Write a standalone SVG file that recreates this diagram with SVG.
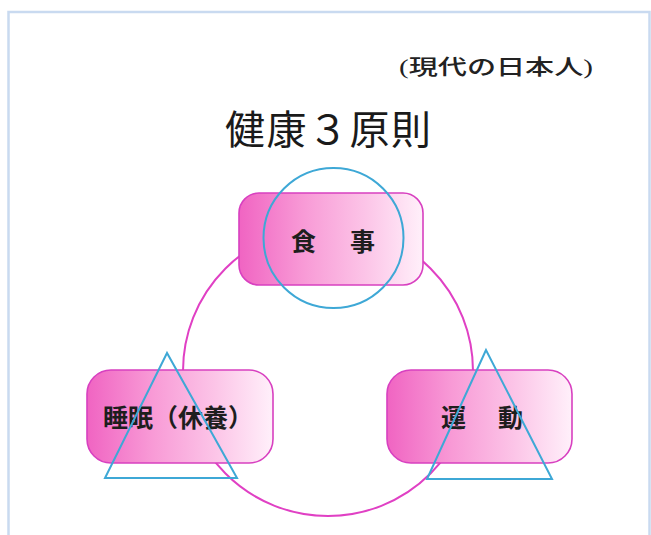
<svg xmlns="http://www.w3.org/2000/svg" width="651" height="535" viewBox="0 0 651 535">
<defs>
<linearGradient id="pinkGrad" x1="0" y1="0" x2="1" y2="0">
<stop offset="0" stop-color="#f064c2"/>
<stop offset="0.35" stop-color="#f89ad6"/>
<stop offset="0.7" stop-color="#fcc6e8"/>
<stop offset="1" stop-color="#fff0fa"/>
</linearGradient>
<style>
.frame{fill:#ffffff;stroke:#c9daf0;stroke-width:2.5}
.box{fill:url(#pinkGrad);stroke:#d840c0;stroke-width:1.6}
.ring{fill:none;stroke:#e040c4;stroke-width:2}
.sym{fill:none;stroke:#3ea8d6;stroke-width:2;stroke-linejoin:miter}
.label{font-family:"Noto Sans CJK JP","Noto Sans",sans-serif;font-size:25px;font-weight:700;fill:#1e1e1e}
.title{font-family:"Noto Sans CJK JP","Noto Sans",sans-serif;font-size:40px;fill:#1a1a1a}
.sub{font-family:"Liberation Serif","Noto Sans CJK JP",serif;font-size:21px;font-weight:500;fill:#222222}
</style>
</defs>
<rect class="frame" x="8.5" y="12" width="641" height="540"/>
<text class="sub" x="399" y="74" textLength="194" lengthAdjust="spacingAndGlyphs">(現代の日本人)</text>
<text class="title" x="225" y="144" letter-spacing="1.5">健康３原則</text>
<g id="connectors">
<circle class="ring" cx="328" cy="371" r="145"/>
</g>
<g id="node-meal">
<rect class="box" x="239" y="193" width="184" height="92" rx="20" ry="20"/>
<text class="label" x="291" y="251" letter-spacing="4.5">食　事</text>
<circle class="sym" cx="333.5" cy="238" r="70"/>
</g>
<g id="node-sleep">
<rect class="box" x="87" y="370" width="186" height="93" rx="24" ry="24"/>
<text class="label" x="103" y="427">睡眠（休養）</text>
<polygon class="sym" points="167,353 105,478 237,478"/>
</g>
<g id="node-exercise">
<rect class="box" x="387" y="370" width="185" height="93" rx="24" ry="24"/>
<text class="label" x="441" y="427" letter-spacing="3.5">運　動</text>
<polygon class="sym" points="486,350 427,479 552,479"/>
</g>
</svg>
